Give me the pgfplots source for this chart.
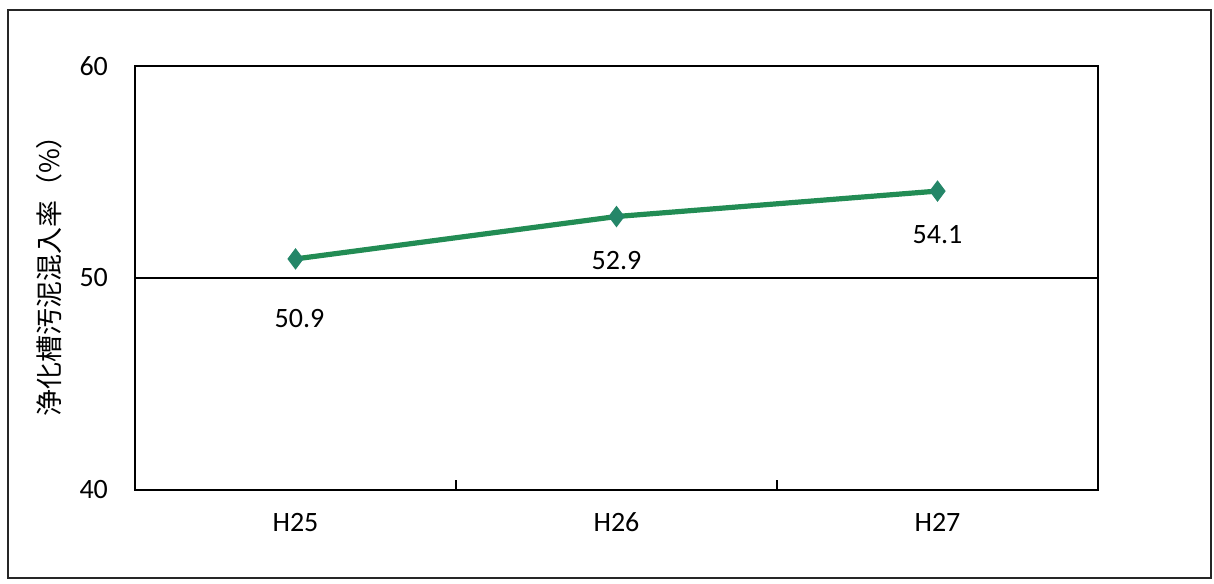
\documentclass[border=0pt]{standalone}
\usepackage{fontspec}
\setmainfont{Carlito}
\newfontfamily\jp{Noto Sans CJK JP}
\usepackage{pgfplots}
\pgfplotsset{compat=1.18}
\definecolor{linegreen}{RGB}{34,140,84}
\definecolor{markgreen}{RGB}{36,134,104}
\begin{document}
\begin{tikzpicture}
\useasboundingbox (-67.5pt,-46.5pt) rectangle (539.5pt,245pt);
\draw[line width=1pt,black!85] (-63.5pt,-44pt) rectangle (538pt,240pt);
\begin{axis}[
  scale only axis,
  width=481.5pt, height=212pt,
  xmin=-0.5, xmax=2.5,
  ymin=40, ymax=60,
  xtick={0.5,1.5},
  xticklabels={},
  xtick pos=lower,
  x tick style={draw=black, line width=0.8pt},
  xtick align=inside,
  major tick length=5pt,
  extra x ticks={0,1,2},
  extra x tick labels={H25,H26,H27},
  extra x tick style={major tick length=0pt, x tick style={draw=none}},
  ytick={40,50,60},
  ymajorgrids,
  grid style={black, line width=0.9pt},
  axis line style={black, line width=1pt},
  y tick style={draw=none},
  /pgf/number format/assume math mode=true,
  xticklabel style={font=\fontsize{14}{16}\selectfont, yshift=-8pt},
  yticklabel style={font=\fontsize{14}{16}\selectfont, xshift=-10pt},
  every axis y label/.style={at={(axis description cs:0,0.52)}, xshift=-43pt, rotate=90, anchor=center},
  ylabel={\jp\fontsize{13.5}{15}\selectfont 浄化槽汚泥混入率（\%）},
  clip=false,
]
\addplot[linegreen, line width=2.6pt, mark=diamond*, mark size=5pt,
  mark options={fill=markgreen, draw=markgreen, line width=0.5pt}]
  coordinates {(0,50.9) (1,52.9) (2,54.1)};
\addplot[draw=none, nodes near coords, point meta=explicit symbolic,
  every node near coord/.append style={anchor=center, yshift=-30pt, xshift=2pt, font=\fontsize{14}{16}\selectfont}]
  coordinates {(0,50.9) [50.9]};
\addplot[draw=none, nodes near coords, point meta=explicit symbolic,
  every node near coord/.append style={anchor=center, yshift=-22pt, font=\fontsize{14}{16}\selectfont}]
  coordinates {(1,52.9) [52.9] (2,54.1) [54.1]};
\end{axis}
\end{tikzpicture}
\end{document}
